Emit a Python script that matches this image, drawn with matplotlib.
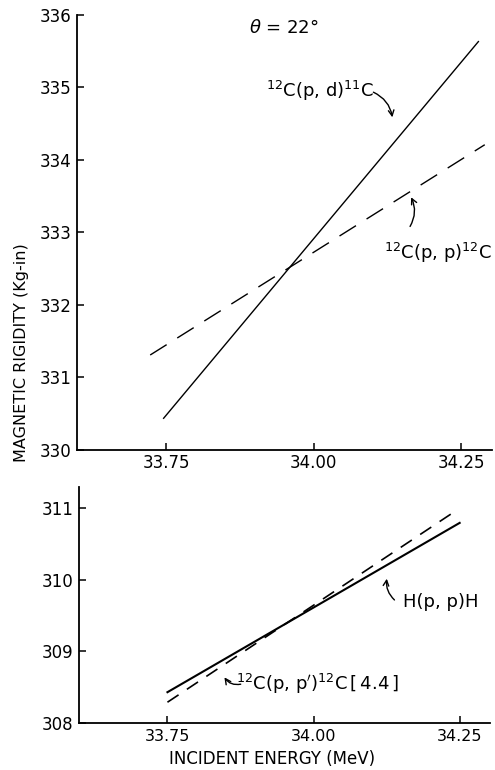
import matplotlib
matplotlib.use("Agg")
import matplotlib.pyplot as plt

# ---- data ----
energy_pd = [33.745, 34.28]
rigidity_pd = [330.43, 335.64]          # 12C(p,d)11C
energy_pp = [33.723, 34.29]
rigidity_pp = [331.31, 334.21]          # 12C(p,p)12C
energy_h = [33.75, 34.25]
rigidity_h = [308.43, 310.79]           # H(p,p)H
energy_c44 = [33.75, 34.24]
rigidity_c44 = [308.29, 310.94]         # 12C(p,p')12C [4.4]

xticks = [33.75, 34.00, 34.25]
xtick_labels = ["33.75", "34.00", "34.25"]
top_yticks = [330, 331, 332, 333, 334, 335, 336]
bot_yticks = [308, 309, 310, 311]

plt.rcParams['font.family'] = ['DejaVu Sans']
plt.rcParams['mathtext.fontset'] = 'dejavusans'

fig = plt.figure(figsize=(4.95, 7.7), dpi=100)
ax1 = fig.add_axes([0.1556, 0.4156, 0.838, 0.565])
ax2 = fig.add_axes([0.160, 0.061, 0.830, 0.3065])

for ax in (ax1, ax2):
    ax.spines['top'].set_visible(False)
    ax.spines['right'].set_visible(False)
    for s in ('left', 'bottom'):
        ax.spines[s].set_linewidth(1.3)
    ax.set_xlim(33.599, 34.302)
    ax.set_xticks(xticks)
    ax.set_xticklabels(xtick_labels)
    ax.tick_params(direction='in', length=5, width=1.1, labelsize=12)

ax1.set_ylim(330, 336)
ax1.set_yticks(top_yticks)
ax1.tick_params(axis='x', pad=3)
ax1.tick_params(axis='y', pad=4)

ax2.set_ylim(308, 311.29)
ax2.set_yticks(bot_yticks)
ax2.tick_params(axis='x', pad=4, labelsize=11.5)
ax2.tick_params(axis='y', pad=4)

# lines
ax1.plot(energy_pd, rigidity_pd, color='black', lw=1.0, solid_capstyle='butt')
ax1.plot(energy_pp, rigidity_pp, color='black', lw=1.0, dashes=(14, 9))
ax2.plot(energy_h, rigidity_h, color='black', lw=1.5)
ax2.plot(energy_c44, rigidity_c44, color='black', lw=1.2, dashes=(8, 6))

# annotations
ax1.text(33.891, 335.82, r"$\theta$ = 22°", fontsize=13, va='center', ha='left')
ax1.text(33.92, 334.95, r"$^{12}$C(p, d)$^{11}$C", fontsize=13, va='center', ha='left')
ax1.annotate("", xy=(34.134, 334.55), xytext=(34.097, 334.95),
             arrowprops=dict(arrowstyle='->', color='black', lw=1.0,
                             connectionstyle='arc3,rad=-0.3'))
ax1.text(34.12, 332.72, r"$^{12}$C(p, p)$^{12}$C", fontsize=13, va='center', ha='left')
ax1.annotate("", xy=(34.163, 333.52), xytext=(34.161, 333.05),
             arrowprops=dict(arrowstyle='->', color='black', lw=1.0,
                             connectionstyle='arc3,rad=0.3'))

ax2.text(34.153, 309.69, "H(p, p)H", fontsize=13, va='center', ha='left')
ax2.annotate("", xy=(34.126, 310.05), xytext=(34.142, 309.69),
             arrowprops=dict(arrowstyle='->', color='black', lw=1.0,
                             connectionstyle='arc3,rad=-0.3'))
ax2.text(33.867, 308.55, r"$^{12}$C(p, p$'$)$^{12}$C$\,\left[\,4.4\,\right]$",
         fontsize=13, va='center', ha='left')
ax2.annotate("", xy=(33.845, 308.67), xytext=(33.88, 308.55),
             arrowprops=dict(arrowstyle='->', color='black', lw=1.0,
                             connectionstyle='arc3,rad=-0.4'))

fig.text(0.044, 0.542, "MAGNETIC RIGIDITY (Kg-in)", rotation=90,
         ha='center', va='center', fontsize=11.5)
fig.text(0.55, 1 - 759 / 770, "INCIDENT ENERGY (MeV)", ha='center',
         va='center', fontsize=12)

fig.savefig("out.png", dpi=100)
